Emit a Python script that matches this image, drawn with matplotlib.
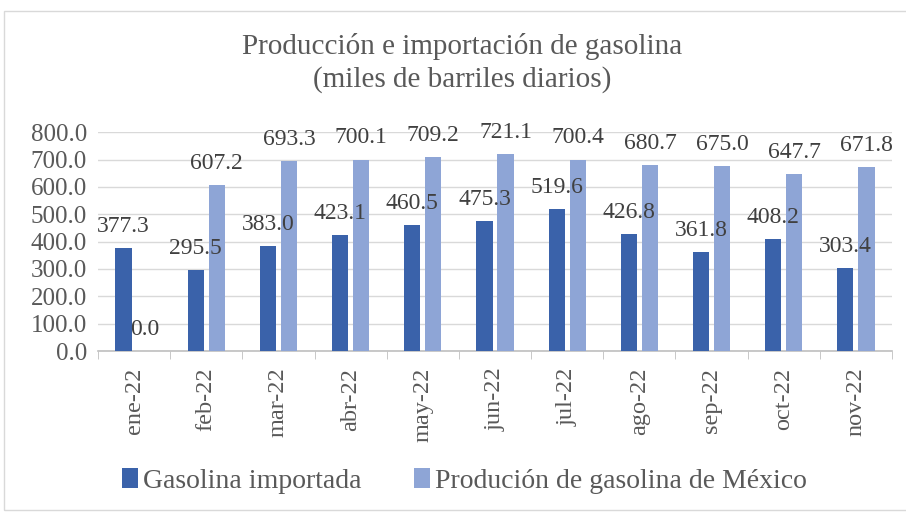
import numpy as np
import matplotlib
matplotlib.use("Agg")
import matplotlib.pyplot as plt
from matplotlib.patches import Rectangle

months = ["ene-22", "feb-22", "mar-22", "abr-22", "may-22", "jun-22",
          "jul-22", "ago-22", "sep-22", "oct-22", "nov-22"]
importada = [377.3, 295.5, 383.0, 423.1, 460.5, 475.3, 519.6, 426.8, 361.8, 408.2, 303.4]
produccion = [0.0, 607.2, 693.3, 700.1, 709.2, 721.1, 700.4, 680.7, 675.0, 647.7, 671.8]
yticks = [0, 100, 200, 300, 400, 500, 600, 700, 800]

plt.rcParams["font.family"] = ["Liberation Serif", "DejaVu Serif"]
txt = "#595959"
c_dark = "#3A62AA"
c_light = "#8EA5D6"

fig = plt.figure(figsize=(9.06, 5.12), dpi=100)
fig.patches.append(Rectangle((4 / 906, 2 / 512), 1.1, 1 - 13 / 512, transform=fig.transFigure,
                             fill=False, edgecolor="#d9d9d9", lw=1.0))
ax = fig.add_axes([98 / 906, 1 - 351 / 512, (892 - 98) / 906, (351 - 132.3) / 512])

x = np.arange(len(months))
w = 0.225
off = 0.146
b1 = ax.bar(x - off, importada, w, color=c_dark, zorder=3)
b2 = ax.bar(x + off, produccion, w, color=c_light, zorder=3)

for bars, vals in [(b1, importada), (b2, produccion)]:
    for b, v in zip(bars, vals):
        ax.annotate(f"{v:.1f}", (b.get_x() + b.get_width() / 2, v), xytext=(0, 8),
                    textcoords="offset points", ha="center", va="bottom",
                    fontsize=17, color="#404040", zorder=5, annotation_clip=False)

ax.set_xlim(-0.5, len(months) - 0.5)
ax.set_ylim(0, 800)
ax.set_yticks(yticks)
ax.set_yticklabels([f"{v:.1f}" for v in yticks], fontsize=18, color=txt)
ax.set_xticks(x)
ax.set_xticklabels(months, rotation=90, fontsize=17.5, color=txt)
ax.set_xticks(np.arange(len(months) + 1) - 0.5, minor=True)
ax.tick_params(axis="x", which="major", length=0, pad=12)
ax.tick_params(axis="x", which="minor", length=6, color="#bfbfbf")
ax.tick_params(axis="y", length=0, pad=8)
ax.grid(axis="y", color="#d9d9d9", lw=1.0, zorder=0)
for s in ["top", "right", "left"]:
    ax.spines[s].set_visible(False)
ax.spines["bottom"].set_color("#bfbfbf")
ax.spines["bottom"].set_linewidth(1.2)

fig.text(0.51, 1 - 47 / 512, "Producción e importación de gasolina", ha="center", va="center",
         fontsize=21, color=txt)
fig.text(0.51, 1 - 80 / 512, "(miles de barriles diarios)", ha="center", va="center",
         fontsize=21, color=txt)

fig.legend([b1, b2], ["Gasolina importada", "Produción de gasolina de México"],
           loc="center", bbox_to_anchor=(0.513, 1 - 481 / 512), ncol=2, frameon=False,
           fontsize=20, handlelength=0.55, handleheight=0.7, handletextpad=0.2,
           columnspacing=1.9, labelcolor=txt)

fig.savefig("out.png", dpi=100)
